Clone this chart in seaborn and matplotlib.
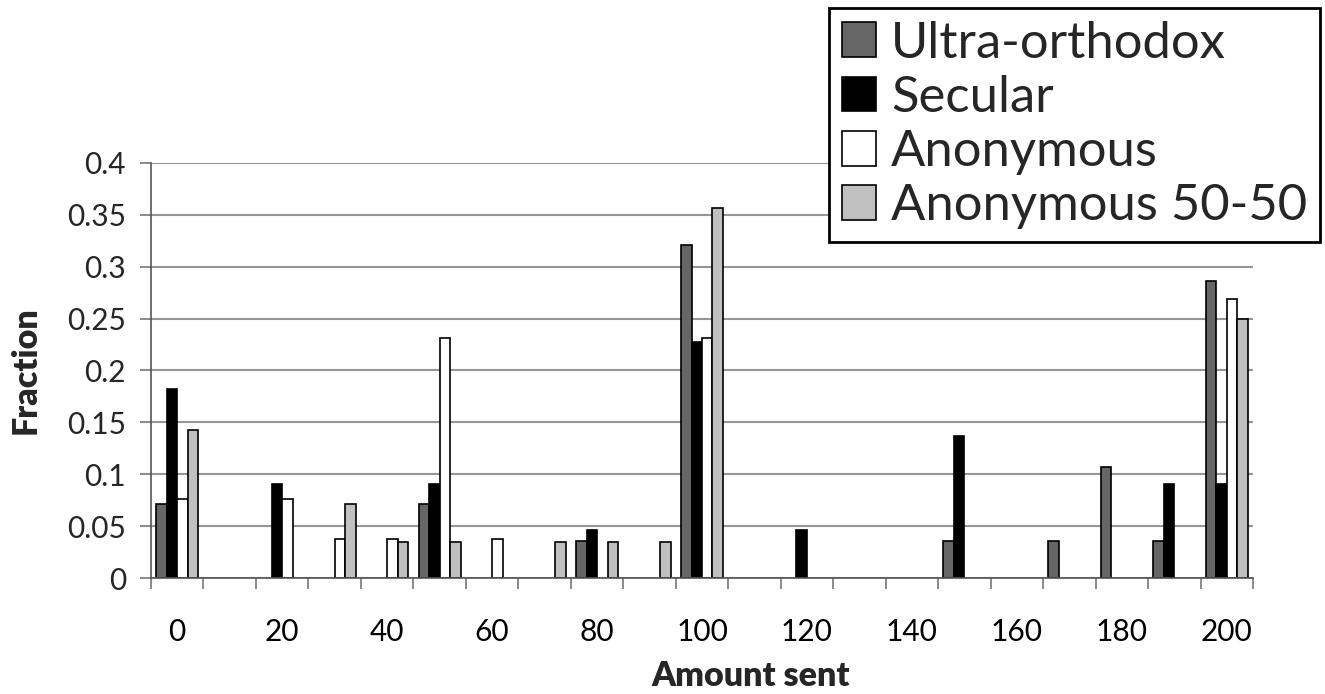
import numpy as np
import pandas as pd
import matplotlib
matplotlib.use("Agg")
import matplotlib.pyplot as plt
import seaborn as sns

# ---- data ----
amounts = list(range(0, 201, 10))
groups = ["Ultra-orthodox", "Secular", "Anonymous", "Anonymous 50-50"]
ultra_orthodox = [0.071, 0, 0, 0, 0, 0.071, 0, 0, 0.036, 0, 0.321, 0, 0, 0, 0, 0.036, 0, 0.036, 0.107, 0.036, 0.286]
secular =        [0.182, 0, 0.091, 0, 0, 0.091, 0, 0, 0.046, 0, 0.227, 0, 0.046, 0, 0, 0.137, 0, 0, 0, 0.091, 0.091]
anonymous =      [0.076, 0, 0.076, 0.038, 0.038, 0.231, 0.038, 0, 0, 0, 0.231, 0, 0, 0, 0, 0, 0, 0, 0, 0, 0.269]
anonymous_5050 = [0.143, 0, 0, 0.071, 0.035, 0.035, 0, 0.035, 0.035, 0.035, 0.357, 0, 0, 0, 0, 0, 0, 0, 0, 0, 0.25]
x_tick_labels = [str(a) for a in range(0, 201, 20)]
y_ticks = [0, 0.05, 0.1, 0.15, 0.2, 0.25, 0.3, 0.35, 0.4]
colors = ["#666666", "#000000", "#ffffff", "#c0c0c0"]

series = [ultra_orthodox, secular, anonymous, anonymous_5050]
rows = []
for g, vals in zip(groups, series):
    for a, v in zip(amounts, vals):
        if v > 0:
            rows.append({"amount": str(a), "group": g, "fraction": v})
df = pd.DataFrame(rows)

sns.set_theme(style="white")
plt.rcParams["font.family"] = ["Lato", "DejaVu Sans"]

W, H = 1325, 694
fig = plt.figure(figsize=(W / 100, H / 100), dpi=100)
ax = fig.add_axes([151 / W, 1 - 578 / H, (1253 - 151) / W, (578 - 163) / H])

sns.barplot(data=df, x="amount", y="fraction", hue="group",
            order=[str(a) for a in amounts], hue_order=groups,
            palette=colors, edgecolor="black", linewidth=1.2,
            errorbar=None, width=0.8, ax=ax)

ax.set_xlim(-0.5, len(amounts) - 0.5)
ax.set_ylim(0, 0.4)
ax.set_yticks(y_ticks)
ax.set_yticklabels([f"{v:g}" for v in y_ticks])
ax.set_xticks(range(0, len(amounts), 2))
ax.set_xticklabels(x_tick_labels)
ax.set_xticks(np.arange(-0.5, len(amounts), 1), minor=True)

ax.yaxis.grid(True, color="#969696", linewidth=1.5)
ax.xaxis.grid(False)
ax.set_axisbelow(True)

for s in ["top", "right"]:
    ax.spines[s].set_visible(False)
for s in ["left", "bottom"]:
    ax.spines[s].set_color("#555555")
    ax.spines[s].set_linewidth(1.2)

ax.tick_params(axis="x", which="major", length=0, pad=29, labelsize=21.5, colors="black")
ax.tick_params(axis="x", which="minor", length=8, width=1.2, color="#777777", direction="out", bottom=True)
ax.tick_params(axis="y", which="major", length=8, width=1.2, color="#777777", direction="out",
               pad=10, labelsize=21.5, left=True)

ax.set_xlabel("Amount sent", fontsize=24.5, fontweight="heavy")
ax.set_ylabel("Fraction", fontsize=24.5, fontweight="heavy")
ax.xaxis.set_label_coords((751 - 151) / (1253 - 151), (578 - 660) / (578 - 163))
ax.yaxis.set_label_coords((42 - 151) / (1253 - 151), 0.5)

handles, labels = ax.get_legend_handles_labels()
if ax.get_legend() is not None:
    ax.get_legend().remove()
leg = ax.legend(handles, labels, loc="upper right",
                bbox_to_anchor=(1320 / W, 1 - 8 / H), bbox_transform=fig.transFigure,
                fontsize=36.5, frameon=True, fancybox=False, framealpha=1,
                edgecolor="black", handlelength=0.68, handleheight=0.68,
                handletextpad=0.3, labelspacing=0.16, borderpad=0.25, borderaxespad=0)
leg.get_frame().set_linewidth(2)

fig.savefig("out.png", dpi=100)
